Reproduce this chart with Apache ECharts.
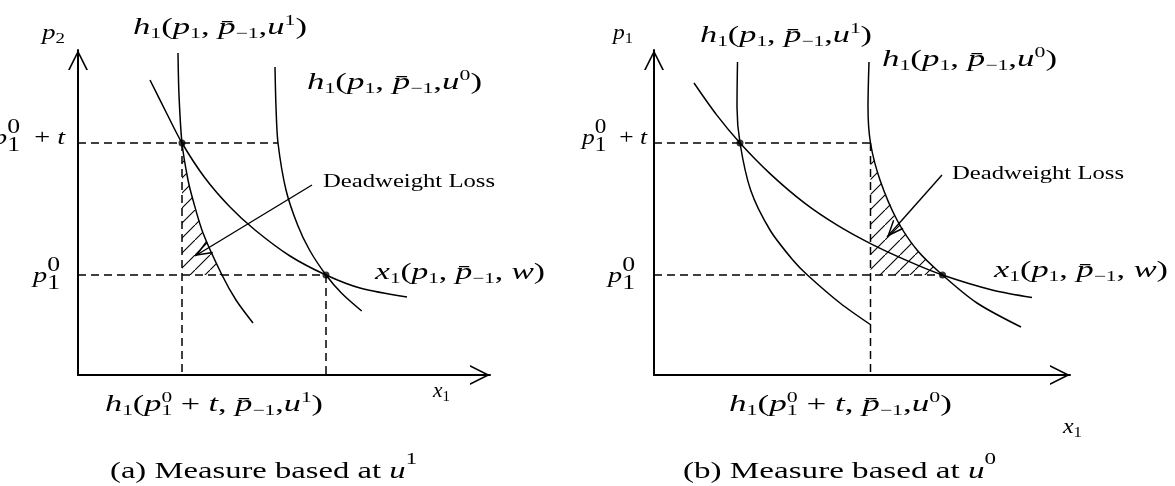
<!DOCTYPE html>
<html>
<head>
<meta charset="utf-8">
<title>Deadweight loss measured at u1 and u0</title>
<script src="https://cdn.jsdelivr.net/npm/echarts@6.0.0/dist/echarts.min.js"></script>
<style>
  html, body { margin: 0; padding: 0; background: #fff; }
  .chart { width: 1175px; height: 486px; }
</style>
</head>
<body>
<div class="chart"></div>
<script>
// price levels, the same in both panels
var P_TAX = 23.2;   // p1^0 + t
var P_ZERO = 10.0;  // p1^0

// (a) measure based at u1
var A_X_MAX = 41.2;
var A_HICKS_U1 = [[10.0, 32.2], [10.1, 28.0], [10.4, 23.2], [11.0, 19.5], [11.5, 17.5], [12.5, 14.2], [14.4, 10.0], [15.8, 7.5], [17.5, 5.2]];
var A_HICKS_U0 = [[19.7, 30.8], [19.8, 26.8], [20.0, 23.2], [20.8, 18.5], [21.96, 15.0], [23.15, 12.5], [24.8, 10.0], [26.34, 8.2], [28.37, 6.4]];
var A_MARSHALL = [[7.2, 29.5], [8.8, 26.3], [10.4, 23.2], [12.7, 19.7], [15.2, 16.8], [17.7, 14.5], [21.2, 11.9], [24.8, 10.0], [28.2, 8.7], [32.9, 7.8]];
var A_Q_TAX = 10.4;     // h1(p1^0 + t, u1)
var A_Q_TAX_U0 = 20.0;  // h1(p1^0 + t, u0)
var A_Q_ZERO = 24.8;    // x1 at p1^0
var A_POINTER = [[23.4, 19.0], [11.7, 11.9]];

// (b) measure based at u0
var B_X_MAX = 41.6;
var B_HICKS_U1 = [[8.35, 31.3], [8.3, 26.8], [8.6, 23.2], [9.66, 18.5], [11.6, 14.5], [13.88, 11.5], [15.34, 10.0], [18.6, 7.2], [21.7, 5.0]];
var B_HICKS_U0 = [[21.5, 31.3], [21.4, 26.8], [21.65, 23.2], [22.6, 19.5], [24.3, 15.5], [26.3, 12.5], [28.85, 10.0], [32.3, 7.2], [36.7, 4.8]];
var B_MARSHALL = [[4.0, 29.2], [6.3, 25.96], [8.6, 23.2], [11.6, 20.14], [15.1, 17.16], [18.4, 14.93], [21.65, 13.14], [25.3, 11.44], [28.85, 10.0], [33.9, 8.48], [37.8, 7.76]];
var B_Q_TAX_U1 = 8.6;   // h1(p1^0 + t, u1)
var B_Q_TAX = 21.65;    // h1(p1^0 + t, u0)
var B_Q_ZERO = 28.85;   // x1 at p1^0
var B_POINTER = [[28.8, 20.0], [23.3, 13.8]];

var Y_MAX = 32.5;

// open arrow heads (tip at the top of the path)
var AXIS_HEAD = 'path://M0,0 L10,20 L8.2,20 L0,3.6 L-8.2,20 L-10,20 Z';
// the two specks widen the bounding box so the tip sits at the symbol centre
var POINTER_HEAD = 'path://M0,0 L7,17 L5.4,17 L0,3.9 L-5.4,17 L-7,17 Z M-17,-17 L-16.95,-17 L-17,-16.95 Z M17,17 L16.95,17 L17,16.95 Z';

var SERIF = '"Liberation Serif", "Times New Roman", serif';

// hatch for the deadweight loss area
function hatchPattern() {
  var c = document.createElement('canvas');
  c.width = 15; c.height = 15;
  var g = c.getContext('2d');
  g.strokeStyle = '#000';
  g.lineWidth = 1.1;
  g.beginPath();
  g.moveTo(-2, 17); g.lineTo(17, -2);
  g.stroke();
  return c;
}
var HATCH = {image: hatchPattern(), repeat: 'repeat'};

// region between the vertical dashed line, p1^0 and a compensated demand curve
function lossArea(curve, qLeft) {
  var pts = [];
  curve.forEach(function (p) {
    if (p[1] <= P_TAX && p[1] >= P_ZERO) pts.push(p);
  });
  pts.push([qLeft, P_ZERO]);
  return pts;
}

function curve(i, data) {
  return {type: 'line', xAxisIndex: i, yAxisIndex: i, data: data, smooth: 0.3,
    symbol: 'none', silent: true, z: 4, lineStyle: {color: '#000', width: 1.5}};
}
function dashed(i, data) {
  return {type: 'line', xAxisIndex: i, yAxisIndex: i, data: data, symbol: 'none', silent: true, z: 3,
    lineStyle: {color: '#000', width: 1.5, type: [8, 5]}};
}
function dots(i, data) {
  return {type: 'scatter', xAxisIndex: i, yAxisIndex: i, data: data, symbolSize: 7, silent: true, z: 6,
    itemStyle: {color: '#000'}};
}
function hatch(i, poly) {
  return {type: 'custom', xAxisIndex: i, yAxisIndex: i, data: [0], silent: true, z: 2,
    renderItem: function (params, api) {
      return {type: 'polygon', shape: {points: poly.map(function (p) { return api.coord(p); })},
        style: {fill: HATCH, stroke: null}};
    }};
}
function pointer(i, coords) {
  return {type: 'lines', coordinateSystem: 'cartesian2d', xAxisIndex: i, yAxisIndex: i, silent: true, z: 5,
    symbol: ['none', POINTER_HEAD], symbolSize: 34,
    lineStyle: {color: '#000', width: 1.4, opacity: 1, curveness: 0},
    data: [{coords: coords}]};
}

// ---------- text (stretched Times-like lettering) ----------
var measureCtx = document.createElement('canvas').getContext('2d');
function textWidth(txt, italic, size) {
  measureCtx.font = (italic ? 'italic' : 'normal') + ' normal ' + size + 'px ' + SERIF;
  return measureCtx.measureText(txt).width;
}

// tokens: i italic, n roman, s subscript, S superscript, Z superscript stacked over the next subscript
function mathText(x, y, tokens, o) {
  var m = o.size, s = o.sub, L = o.lh;
  var rich = {
    i: {fontFamily: SERIF, fontStyle: 'italic', fontSize: m, lineHeight: L, fill: '#000'},
    n: {fontFamily: SERIF, fontSize: m, lineHeight: L, fill: '#000'},
    s: {fontFamily: SERIF, fontSize: s, lineHeight: s, verticalAlign: 'bottom', fill: '#000'},
    S: {fontFamily: SERIF, fontSize: s, lineHeight: s, verticalAlign: 'top', fill: '#000'}
  };
  var str = '', w = 0, stacked = [];
  tokens.forEach(function (t) {
    if (t[0] === 'Z') { stacked.push({at: w, text: t[1]}); return; }
    str += '{' + t[0] + '|' + t[1] + '}';
    w += textWidth(t[1], t[0] === 'i', (t[0] === 's' || t[0] === 'S') ? s : m);
  });
  var k = o.width ? o.width / w : 1;
  var els = [{type: 'text', x: x, y: y, scaleX: k, silent: true,
    style: {text: str, rich: rich, align: 'left', verticalAlign: 'middle'}}];
  stacked.forEach(function (z) {
    els.push({type: 'text', x: x + z.at * k, y: y - L / 2 + s / 2 - (o.zUp || 0), scaleX: k, silent: true,
      style: {text: z.text, fontFamily: SERIF, fontSize: s, fill: '#000', align: 'left', verticalAlign: 'middle'}});
  });
  return els;
}

function hLabel(u) {
  return [['i', 'h'], ['s', '1'], ['n', '('], ['i', 'p'], ['s', '1'], ['n', ', '], ['i', 'p\u0304'],
    ['s', '\u22121'], ['n', ','], ['i', 'u'], ['S', u], ['n', ')']];
}
function hTaxLabel(u) {
  return [['i', 'h'], ['s', '1'], ['n', '('], ['i', 'p'], ['Z', '0'], ['s', '1'], ['n', ' + '], ['i', 't'],
    ['n', ', '], ['i', 'p\u0304'], ['s', '\u22121'], ['n', ','], ['i', 'u'], ['S', u], ['n', ')']];
}
var X_LABEL = [['i', 'x'], ['s', '1'], ['n', '('], ['i', 'p'], ['s', '1'], ['n', ', '], ['i', 'p\u0304'],
  ['s', '\u22121'], ['n', ', '], ['i', 'w'], ['n', ')']];
var DWL_LABEL = [['n', 'Deadweight Loss']];
var PT_LABEL = [['i', 'p'], ['Z', '0'], ['s', '1'], ['n', '  + '], ['i', 't']];
var P0_LABEL = [['i', 'p'], ['Z', '0'], ['s', '1']];

var BIG = {size: 24, sub: 15, lh: 28};
var DWL = {size: 18, sub: 11, lh: 22};
var AXN = {size: 20, sub: 14, lh: 24};
var TICK = {size: 22, sub: 20, lh: 35, zUp: 3};
var CAP = {size: 23, sub: 16, lh: 40};
function opt(base, width) {
  return {size: base.size, sub: base.sub, lh: base.lh, zUp: base.zUp, width: width};
}

var texts = [].concat(
  // panel (a)
  mathText(133, 27.4, hLabel('1'), opt(BIG, 174)),
  mathText(307, 83, hLabel('0'), opt(BIG, 175)),
  mathText(323, 182, DWL_LABEL, opt(DWL, 172)),
  mathText(375, 273, X_LABEL, opt(BIG, 170)),
  mathText(105, 405, hTaxLabel('1'), opt(BIG, 218)),
  mathText(42, 34, [['i', 'p'], ['s', '2']], opt(AXN, 23)),
  mathText(433, 392, [['i', 'x'], ['s', '1']], opt(AXN, 17)),
  mathText(-7, 138.4, PT_LABEL, opt(TICK, 72)),
  mathText(33, 276.4, P0_LABEL, opt(TICK, 27)),
  mathText(110, 472.2, [['n', '(a) Measure based at '], ['i', 'u'], ['S', '1']], opt(CAP, 307)),
  // panel (b)
  mathText(700, 35.4, hLabel('1'), opt(BIG, 172)),
  mathText(882, 59.6, hLabel('0'), opt(BIG, 175)),
  mathText(952, 174, DWL_LABEL, opt(DWL, 172)),
  mathText(994, 271, X_LABEL, opt(BIG, 174)),
  mathText(729, 405, hTaxLabel('0'), opt(BIG, 223)),
  mathText(613, 34, [['i', 'p'], ['s', '1']], opt(AXN, 20)),
  mathText(1063, 428, [['i', 'x'], ['s', '1']], opt(AXN, 19)),
  mathText(582, 138.4, PT_LABEL, opt(TICK, 65)),
  mathText(608, 276.4, P0_LABEL, opt(TICK, 27)),
  mathText(683, 472.2, [['n', '(b) Measure based at '], ['i', 'u'], ['S', '0']], opt(CAP, 313))
);

function axis(i, max, head) {
  return {type: 'value', gridIndex: i, min: 0, max: max,
    axisLine: {show: true, symbol: ['none', AXIS_HEAD], symbolSize: head, symbolOffset: [0, -10],
      lineStyle: {color: '#000', width: 2}},
    axisTick: {show: false}, axisLabel: {show: false}, splitLine: {show: false}};
}

var chart = echarts.init(document.querySelector('.chart'));

var option = {
  animation: false,
  backgroundColor: '#fff',
  grid: [
    {left: 78, top: 50, width: 412, height: 325},
    {left: 654, top: 50, width: 416, height: 325}
  ],
  xAxis: [axis(0, A_X_MAX, [20, 20]), axis(1, B_X_MAX, [20, 20])],
  yAxis: [axis(0, Y_MAX, [22, 20]), axis(1, Y_MAX, [22, 20])],
  series: [
    // (a)
    hatch(0, lossArea(A_HICKS_U1, A_Q_TAX)),
    dashed(0, [[0, P_TAX], [A_Q_TAX_U0, P_TAX]]),
    dashed(0, [[A_Q_TAX, P_TAX], [A_Q_TAX, 0]]),
    dashed(0, [[0, P_ZERO], [A_Q_ZERO, P_ZERO]]),
    dashed(0, [[A_Q_ZERO, P_ZERO], [A_Q_ZERO, 0]]),
    curve(0, A_HICKS_U1),
    curve(0, A_HICKS_U0),
    curve(0, A_MARSHALL),
    dots(0, [[A_Q_TAX, P_TAX], [A_Q_ZERO, P_ZERO]]),
    pointer(0, A_POINTER),
    // (b)
    hatch(1, lossArea(B_HICKS_U0, B_Q_TAX)),
    dashed(1, [[0, P_TAX], [B_Q_TAX, P_TAX]]),
    dashed(1, [[B_Q_TAX, P_TAX], [B_Q_TAX, 0]]),
    dashed(1, [[0, P_ZERO], [B_Q_ZERO, P_ZERO]]),
    curve(1, B_HICKS_U1),
    curve(1, B_HICKS_U0),
    curve(1, B_MARSHALL),
    dots(1, [[B_Q_TAX_U1, P_TAX], [B_Q_ZERO, P_ZERO]]),
    pointer(1, B_POINTER)
  ],
  graphic: {elements: texts}
};

chart.setOption(option);
</script>
</body>
</html>
